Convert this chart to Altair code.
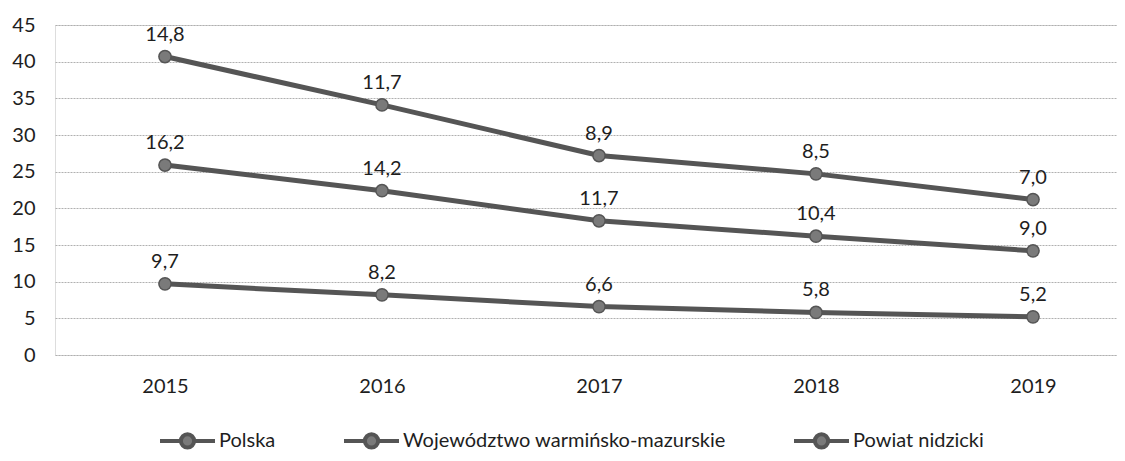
import altair as alt
import pandas as pd

years = ["2015", "2016", "2017", "2018", "2019"]
series = ["Polska", "Województwo warmińsko-mazurskie", "Powiat nidzicki"]
polska = [9.7, 8.2, 6.6, 5.8, 5.2]
wojewodztwo = [16.2, 14.2, 11.7, 10.4, 9.0]
powiat = [14.8, 11.7, 8.9, 8.5, 7.0]

rows = []
for order, (name, vals) in enumerate(zip(series, [polska, wojewodztwo, powiat])):
    for y, v in zip(years, vals):
        rows.append({"year": y, "series": name, "value": v, "order": order,
                     "label": f"{v:.1f}".replace(".", ",")})
df = pd.DataFrame(rows)

FONT = "Lato"
LINE = "#555555"
POINT = "#7a7a7a"
TEXT = "#1e1e1e"

base = alt.Chart(df).transform_stack(
    stack="value", groupby=["year"], as_=["y0", "y1"], sort=[{"field": "order"}]
)

x = alt.X("year:N", title=None,
          scale=alt.Scale(type="point", padding=0.447, align=0.567),
          axis=alt.Axis(labelAngle=0, labelFontSize=20, labelPadding=21, ticks=False,
                        domain=False, grid=False, labelColor=TEXT, labelFont=FONT))
y = alt.Y("y1:Q", title=None,
          scale=alt.Scale(domain=[0, 45], nice=False),
          axis=alt.Axis(values=list(range(0, 46, 5)), labelFontSize=20, labelPadding=20,
                        ticks=False, domain=False, grid=True, gridColor="#b0b0b0",
                        gridDash=[2, 1], gridWidth=1, labelColor=TEXT, labelFont=FONT))

color = alt.Color("series:N", sort=series,
                  scale=alt.Scale(domain=series, range=[LINE, LINE, LINE]),
                  legend=alt.Legend(title=None, orient="none", direction="horizontal",
                                    legendX=103, legendY=386,
                                    symbolType="M-1,0H-0.24M0.24,0H1M-0.24,0A0.24,0.24 0 1,1 0.24,0A0.24,0.24 0 1,1 -0.24,0Z",
                                    symbolSize=3025, symbolStrokeWidth=4,
                                    symbolFillColor=POINT, symbolStrokeColor=LINE,
                                    labelFontSize=20, labelFont=FONT, labelColor=TEXT,
                                    labelOffset=2, columnPadding=60, labelLimit=500))

lines = base.mark_line(strokeWidth=5).encode(x=x, y=y, color=color, detail="series:N")
points = base.mark_point(filled=True, size=150, fill=POINT, stroke=LINE,
                         strokeWidth=1.5, opacity=1).encode(x=x, y=y, detail="series:N")
labels = base.mark_text(dy=-22, fontSize=20, font=FONT, color=TEXT,
                        baseline="middle").encode(x=x, y=y, text="label:N")

chart = alt.layer(lines, points, labels).properties(
    width=1062, height=330,
    autosize=alt.AutoSizeParams(type="none"),
    padding={"left": 47, "top": 17, "right": 0, "bottom": 98},
).configure_view(stroke=None).configure(background="white")

chart.save("out.html", embed_options={"renderer": "svg", "actions": False})
